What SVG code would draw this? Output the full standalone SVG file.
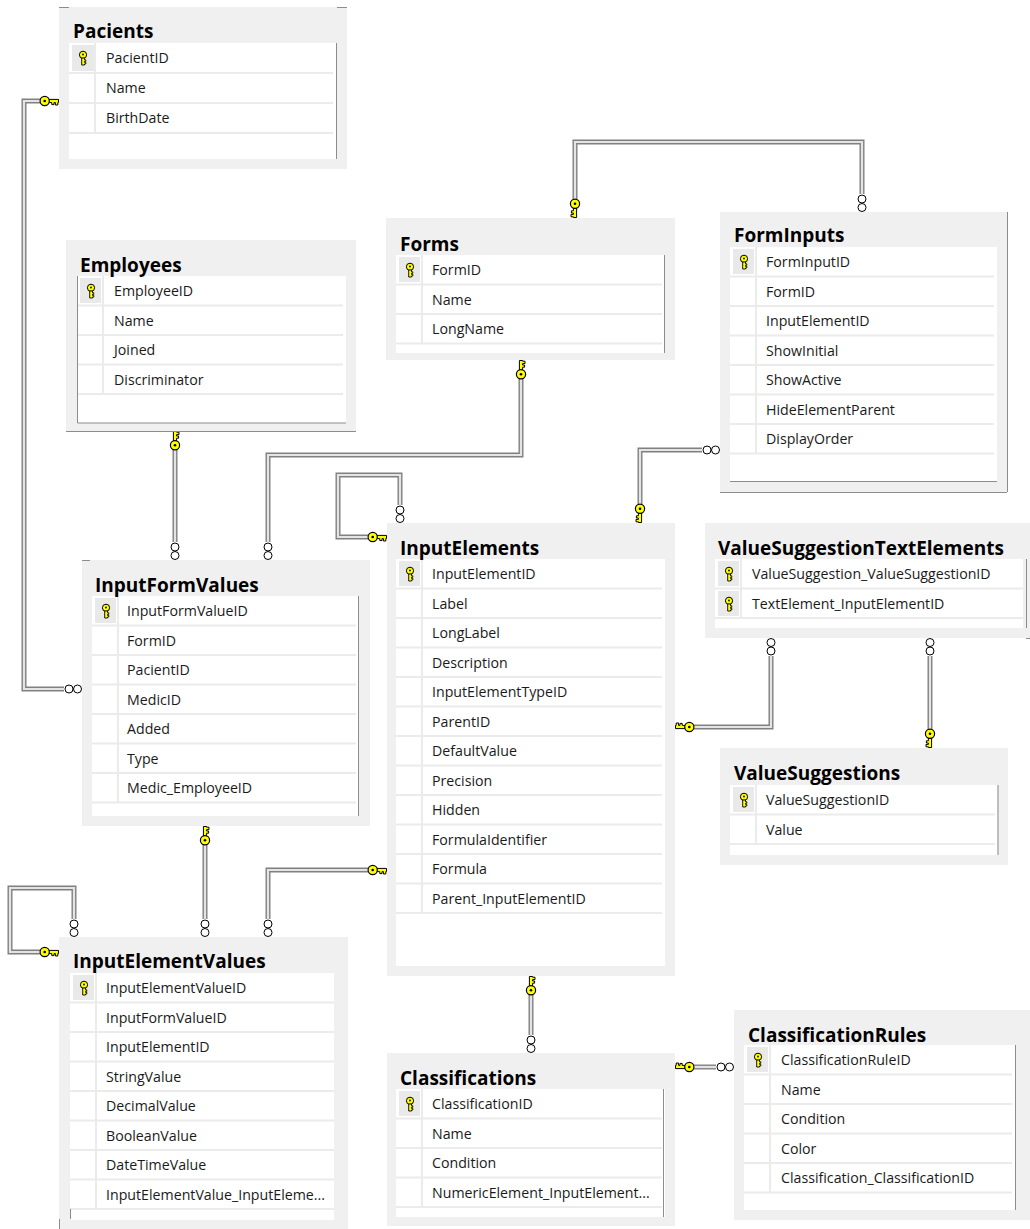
<svg xmlns="http://www.w3.org/2000/svg" xmlns:xlink="http://www.w3.org/1999/xlink" width="1030" height="1229" viewBox="0 0 1030 1229">
  <style>
    .frame { fill: #f0f0f0; }
    .body { fill: #ffffff; }
    .sep { stroke: #ebebeb; stroke-width: 2; }
    .pk { fill: #e9e9e9; }
    .edge { stroke: #8c8c8c; stroke-width: 1; fill: none; }
    .title { font-family: "Open Sans", "Noto Sans", "Liberation Sans", sans-serif; font-size: 19px; font-weight: bold; fill: #000; }
    .field { font-family: "Open Sans", "Noto Sans", "Liberation Sans", sans-serif; font-size: 14.2px; fill: #1a1a1a; }
    .rel-outer { fill: none; stroke: #808080; stroke-width: 5; }
    .rel-inner { fill: none; stroke: #e4e4e4; stroke-width: 2.2; }
  </style>
  <defs>
    <!-- primary key glyph for a row -->
    <g id="pkIcon">
      <circle cx="0" cy="-3.2" r="3.6" fill="#ffff00" stroke="#000" stroke-width="1"/>
      <path d="M-1.3,0 V7 H1.5 V6 H2.8 V4.4 H1.5 V3.3 H2.8 V1.8 H1.5 V0 Z" fill="#ffff00" stroke="#000" stroke-width="0.9"/>
      <circle cx="0" cy="-3.5" r="0.9" fill="#000"/>
    </g>
    <!-- "one" end of a relationship: origin on the table edge, extends along +y -->
    <g id="keyEnd">
      <path d="M-1.6,10 V0.5 H1.6 V1.2 H4 V3.6 H1.6 V5 H3.6 V7.2 H1.6 V10 Z" fill="#ffff00" stroke="#000" stroke-width="1"/>
      <circle cx="0" cy="14.3" r="4.6" fill="#ffff00" stroke="#000" stroke-width="1.2"/>
      <circle cx="0" cy="14.3" r="1.3" fill="#000"/>
    </g>
    <!-- "many" end of a relationship: origin on the table edge, extends along +y -->
    <g id="manyEnd" fill="#fff" stroke="#000" stroke-width="1">
      <circle cx="0" cy="4.5" r="4"/>
      <circle cx="0" cy="13" r="4"/>
    </g>
  </defs>

  <rect width="1030" height="1229" fill="#ffffff"/>

  <!-- Relationship lines -->
  <g id="relationships">
    <g id="rel-pacient">
      <path class="rel-outer" d="M41,101 H24 V689 H64"/>
      <path class="rel-inner" d="M41,101 H24 V689 H64"/>
      <use xlink:href="#keyEnd" transform="translate(59,101) rotate(90)"/>
      <use xlink:href="#manyEnd" transform="translate(82,689) rotate(90)"/>
    </g>
    <g id="rel-medic">
      <path class="rel-outer" d="M175,450 V542"/>
      <path class="rel-inner" d="M175,450 V542"/>
      <use xlink:href="#keyEnd" transform="translate(175,431)"/>
      <use xlink:href="#manyEnd" transform="translate(175,560) rotate(180)"/>
    </g>
    <g id="rel-form-values">
      <path class="rel-outer" d="M521,379 V455 H268 V542"/>
      <path class="rel-inner" d="M521,379 V455 H268 V542"/>
      <use xlink:href="#keyEnd" transform="translate(521,360)"/>
      <use xlink:href="#manyEnd" transform="translate(268,560) rotate(180)"/>
    </g>
    <g id="rel-form-inputs">
      <path class="rel-outer" d="M575,199 V142 H862 V194"/>
      <path class="rel-inner" d="M575,199 V142 H862 V194"/>
      <use xlink:href="#keyEnd" transform="translate(575,218) rotate(180)"/>
      <use xlink:href="#manyEnd" transform="translate(862,212) rotate(180)"/>
    </g>
    <g id="rel-input-element-forms">
      <path class="rel-outer" d="M702,450 H640 V504"/>
      <path class="rel-inner" d="M702,450 H640 V504"/>
      <use xlink:href="#manyEnd" transform="translate(720,450) rotate(90)"/>
      <use xlink:href="#keyEnd" transform="translate(640,523) rotate(180)"/>
    </g>
    <g id="rel-input-element-parent">
      <path class="rel-outer" d="M400,505 V475 H338 V537 H368"/>
      <path class="rel-inner" d="M400,505 V475 H338 V537 H368"/>
      <use xlink:href="#manyEnd" transform="translate(400,523) rotate(180)"/>
      <use xlink:href="#keyEnd" transform="translate(387,537) rotate(90)"/>
    </g>
    <g id="rel-element-values">
      <path class="rel-outer" d="M368,870 H268 V919"/>
      <path class="rel-inner" d="M368,870 H268 V919"/>
      <use xlink:href="#keyEnd" transform="translate(387,870) rotate(90)"/>
      <use xlink:href="#manyEnd" transform="translate(268,937) rotate(180)"/>
    </g>
    <g id="rel-form-value-elements">
      <path class="rel-outer" d="M205,845 V919"/>
      <path class="rel-inner" d="M205,845 V919"/>
      <use xlink:href="#keyEnd" transform="translate(205,826)"/>
      <use xlink:href="#manyEnd" transform="translate(205,937) rotate(180)"/>
    </g>
    <g id="rel-element-value-parent">
      <path class="rel-outer" d="M74,919 V888 H10 V952 H40"/>
      <path class="rel-inner" d="M74,919 V888 H10 V952 H40"/>
      <use xlink:href="#manyEnd" transform="translate(74,937) rotate(180)"/>
      <use xlink:href="#keyEnd" transform="translate(59,952) rotate(90)"/>
    </g>
    <g id="rel-text-element">
      <path class="rel-outer" d="M771,656 V727 H694"/>
      <path class="rel-inner" d="M771,656 V727 H694"/>
      <use xlink:href="#manyEnd" transform="translate(771,638)"/>
      <use xlink:href="#keyEnd" transform="translate(675,727) rotate(-90)"/>
    </g>
    <g id="rel-value-suggestion">
      <path class="rel-outer" d="M930,656 V729"/>
      <path class="rel-inner" d="M930,656 V729"/>
      <use xlink:href="#manyEnd" transform="translate(930,638)"/>
      <use xlink:href="#keyEnd" transform="translate(930,748) rotate(180)"/>
    </g>
    <g id="rel-numeric-element">
      <path class="rel-outer" d="M531,995 V1035"/>
      <path class="rel-inner" d="M531,995 V1035"/>
      <use xlink:href="#keyEnd" transform="translate(531,976)"/>
      <use xlink:href="#manyEnd" transform="translate(531,1053) rotate(180)"/>
    </g>
    <g id="rel-classification-rules">
      <path class="rel-outer" d="M694,1067 H716"/>
      <path class="rel-inner" d="M694,1067 H716"/>
      <use xlink:href="#keyEnd" transform="translate(675,1067) rotate(-90)"/>
      <use xlink:href="#manyEnd" transform="translate(734,1067) rotate(90)"/>
    </g>
  </g>

  <!-- Pacients -->
  <g id="Pacients">
    <rect class="frame" x="59" y="7" width="288" height="162"/>
    <rect class="body" x="69" y="43" width="267" height="116"/>
    <rect class="pk" x="72" y="45" width="22" height="26"/>
    <path class="sep" d="M69,73 H333 M69,103 H333 M69,133 H333 M95,43 V133"/>
    <path class="edge" d="M59,7.5 H69 M337,7.5 H347 M336.5,43 V159"/>
    <use xlink:href="#pkIcon" transform="translate(83,58)"/>
    <text class="title" x="73" y="38">Pacients</text>
    <text class="field" x="106" y="63">PacientID</text>
    <text class="field" x="106" y="93">Name</text>
    <text class="field" x="106" y="123">BirthDate</text>
  </g>

  <!-- Employees -->
  <g id="Employees">
    <rect class="frame" x="66" y="240" width="290" height="191"/>
    <rect class="body" x="77" y="276" width="269" height="147"/>
    <rect class="pk" x="80" y="278" width="21" height="25"/>
    <path class="sep" d="M77,305.5 H343 M77,335 H343 M77,364.5 H343 M77,394 H343 M103,276 V394"/>
    <path class="edge" d="M77.5,276 V423 H346 M66,431.5 H356"/>
    <use xlink:href="#pkIcon" transform="translate(91,291)"/>
    <text class="title" x="80" y="272">Employees</text>
    <text class="field" x="114" y="296">EmployeeID</text>
    <text class="field" x="114" y="325.5">Name</text>
    <text class="field" x="114" y="355">Joined</text>
    <text class="field" x="114" y="384.5">Discriminator</text>
  </g>

  <!-- Forms -->
  <g id="Forms">
    <rect class="frame" x="386" y="218" width="289" height="142"/>
    <rect class="body" x="396" y="255" width="269" height="98"/>
    <rect class="pk" x="399" y="257" width="21" height="25"/>
    <path class="sep" d="M396,284.5 H662 M396,314 H662 M396,343.5 H662 M422,255 V343.5"/>
    <path class="edge" d="M664.5,255 V353"/>
    <use xlink:href="#pkIcon" transform="translate(410,270)"/>
    <text class="title" x="400" y="251">Forms</text>
    <text class="field" x="432" y="275">FormID</text>
    <text class="field" x="432" y="304.5">Name</text>
    <text class="field" x="432" y="334">LongName</text>
  </g>

  <!-- FormInputs -->
  <g id="FormInputs">
    <rect class="frame" x="720" y="212" width="287" height="280"/>
    <rect class="body" x="730" y="247" width="267" height="234"/>
    <rect class="pk" x="733" y="249" width="21" height="25"/>
    <path class="sep" d="M730,276.5 H994 M730,306 H994 M730,335.5 H994 M730,365 H994 M730,394.5 H994 M730,424 H994 M730,453.5 H994 M756,247 V453.5"/>
    <path class="edge" d="M730,481.5 H997 M1007.5,212 V492 M720,492.5 H1007"/>
    <use xlink:href="#pkIcon" transform="translate(744,262)"/>
    <text class="title" x="734" y="242">FormInputs</text>
    <text class="field" x="766" y="267">FormInputID</text>
    <text class="field" x="766" y="296.5">FormID</text>
    <text class="field" x="766" y="326">InputElementID</text>
    <text class="field" x="766" y="355.5">ShowInitial</text>
    <text class="field" x="766" y="385">ShowActive</text>
    <text class="field" x="766" y="414.5">HideElementParent</text>
    <text class="field" x="766" y="444">DisplayOrder</text>
  </g>

  <!-- InputFormValues -->
  <g id="InputFormValues">
    <rect class="frame" x="82" y="560" width="288" height="266"/>
    <rect class="body" x="92" y="596" width="267" height="220"/>
    <rect class="pk" x="95" y="598" width="21" height="25"/>
    <path class="sep" d="M92,625.5 H356 M92,655 H356 M92,684.5 H356 M92,714 H356 M92,743.5 H356 M92,773 H356 M92,802.5 H356 M118,596 V802.5"/>
    <path class="edge" d="M82,560.5 H90 M358.5,596 V816"/>
    <use xlink:href="#pkIcon" transform="translate(106,611)"/>
    <text class="title" x="95" y="592">InputFormValues</text>
    <text class="field" x="127" y="616">InputFormValueID</text>
    <text class="field" x="127" y="645.5">FormID</text>
    <text class="field" x="127" y="675">PacientID</text>
    <text class="field" x="127" y="704.5">MedicID</text>
    <text class="field" x="127" y="734">Added</text>
    <text class="field" x="127" y="763.5">Type</text>
    <text class="field" x="127" y="793">Medic_EmployeeID</text>
  </g>

  <!-- InputElements -->
  <g id="InputElements">
    <rect class="frame" x="387" y="523" width="288" height="453"/>
    <rect class="body" x="396" y="559" width="269" height="407"/>
    <rect class="pk" x="399" y="561" width="21" height="25"/>
    <path class="sep" d="M396,588.5 H662 M396,618 H662 M396,647.5 H662 M396,677 H662 M396,706.5 H662 M396,736 H662 M396,765.5 H662 M396,795 H662 M396,824.5 H662 M396,854 H662 M396,883.5 H662 M396,913 H662 M422,559 V913"/>
    <use xlink:href="#pkIcon" transform="translate(410,574)"/>
    <text class="title" x="400" y="555">InputElements</text>
    <text class="field" x="432" y="579">InputElementID</text>
    <text class="field" x="432" y="608.5">Label</text>
    <text class="field" x="432" y="638">LongLabel</text>
    <text class="field" x="432" y="667.5">Description</text>
    <text class="field" x="432" y="697">InputElementTypeID</text>
    <text class="field" x="432" y="726.5">ParentID</text>
    <text class="field" x="432" y="756">DefaultValue</text>
    <text class="field" x="432" y="785.5">Precision</text>
    <text class="field" x="432" y="815">Hidden</text>
    <text class="field" x="432" y="844.5">FormulaIdentifier</text>
    <text class="field" x="432" y="874">Formula</text>
    <text class="field" x="432" y="903.5">Parent_InputElementID</text>
  </g>

  <!-- ValueSuggestionTextElements -->
  <g id="ValueSuggestionTextElements">
    <rect class="frame" x="705" y="523" width="325" height="115"/>
    <rect class="body" x="715" y="559" width="308" height="69"/>
    <rect class="pk" x="718" y="561" width="21" height="25"/>
    <rect class="pk" x="718" y="591" width="21" height="25"/>
    <path class="sep" d="M715,588.5 H1023 M715,618 H1023 M741,559 V618"/>
    <path class="edge" d="M1026.5,559 V628 M1026,638.5 H1030"/>
    <use xlink:href="#pkIcon" transform="translate(729,574)"/>
    <use xlink:href="#pkIcon" transform="translate(729,604)"/>
    <text class="title" x="718" y="555">ValueSuggestionTextElements</text>
    <text class="field" x="752" y="579">ValueSuggestion_ValueSuggestionID</text>
    <text class="field" x="752" y="608.5">TextElement_InputElementID</text>
  </g>

  <!-- ValueSuggestions -->
  <g id="ValueSuggestions">
    <rect class="frame" x="720" y="748" width="288" height="117"/>
    <rect class="body" x="730" y="785" width="267" height="70"/>
    <rect class="pk" x="733" y="787" width="21" height="25"/>
    <path class="sep" d="M730,814.5 H995 M730,844 H995 M756,785 V844"/>
    <path class="edge" d="M998,785 V855"/>
    <use xlink:href="#pkIcon" transform="translate(744,800)"/>
    <text class="title" x="734" y="780">ValueSuggestions</text>
    <text class="field" x="766" y="805">ValueSuggestionID</text>
    <text class="field" x="766" y="834.5">Value</text>
  </g>

  <!-- InputElementValues -->
  <g id="InputElementValues">
    <rect class="frame" x="59" y="937" width="289" height="292"/>
    <rect class="body" x="70" y="973" width="264" height="247"/>
    <rect class="pk" x="73" y="975" width="21" height="25"/>
    <path class="sep" d="M70,1002.5 H334 M70,1032 H334 M70,1061.5 H334 M70,1091 H334 M70,1120.5 H334 M70,1150 H334 M70,1179.5 H334 M70,1209 H334 M96,973 V1209"/>
    <path class="edge" d="M70.5,1209 V1219 M59.5,1219 V1229"/>
    <use xlink:href="#pkIcon" transform="translate(84,988)"/>
    <text class="title" x="73" y="968">InputElementValues</text>
    <text class="field" x="106" y="993">InputElementValueID</text>
    <text class="field" x="106" y="1022.5">InputFormValueID</text>
    <text class="field" x="106" y="1052">InputElementID</text>
    <text class="field" x="106" y="1081.5">StringValue</text>
    <text class="field" x="106" y="1111">DecimalValue</text>
    <text class="field" x="106" y="1140.5">BooleanValue</text>
    <text class="field" x="106" y="1170">DateTimeValue</text>
    <text class="field" x="106" y="1199.5">InputElementValue_InputEleme...</text>
  </g>

  <!-- Classifications -->
  <g id="Classifications">
    <rect class="frame" x="387" y="1053" width="288" height="173"/>
    <rect class="body" x="396" y="1089" width="269" height="128"/>
    <rect class="pk" x="399" y="1091" width="21" height="25"/>
    <path class="sep" d="M396,1118.5 H662 M396,1148 H662 M396,1177.5 H662 M396,1207 H662 M422,1089 V1207"/>
    <path class="edge" d="M663.5,1089 V1217"/>
    <use xlink:href="#pkIcon" transform="translate(410,1104)"/>
    <text class="title" x="400" y="1085">Classifications</text>
    <text class="field" x="432" y="1109">ClassificationID</text>
    <text class="field" x="432" y="1138.5">Name</text>
    <text class="field" x="432" y="1168">Condition</text>
    <text class="field" x="432" y="1197.5">NumericElement_InputElement...</text>
  </g>

  <!-- ClassificationRules -->
  <g id="ClassificationRules">
    <rect class="frame" x="734" y="1010" width="296" height="210"/>
    <rect class="body" x="744" y="1045" width="271" height="165"/>
    <rect class="pk" x="747" y="1047" width="21" height="25"/>
    <path class="sep" d="M744,1074.5 H1012 M744,1104 H1012 M744,1133.5 H1012 M744,1163 H1012 M744,1192.5 H1012 M770,1045 V1192.5"/>
    <path class="edge" d="M1015.5,1045 V1210"/>
    <use xlink:href="#pkIcon" transform="translate(758,1060)"/>
    <text class="title" x="748" y="1042">ClassificationRules</text>
    <text class="field" x="781" y="1065">ClassificationRuleID</text>
    <text class="field" x="781" y="1094.5">Name</text>
    <text class="field" x="781" y="1124">Condition</text>
    <text class="field" x="781" y="1153.5">Color</text>
    <text class="field" x="781" y="1183">Classification_ClassificationID</text>
  </g>
</svg>
